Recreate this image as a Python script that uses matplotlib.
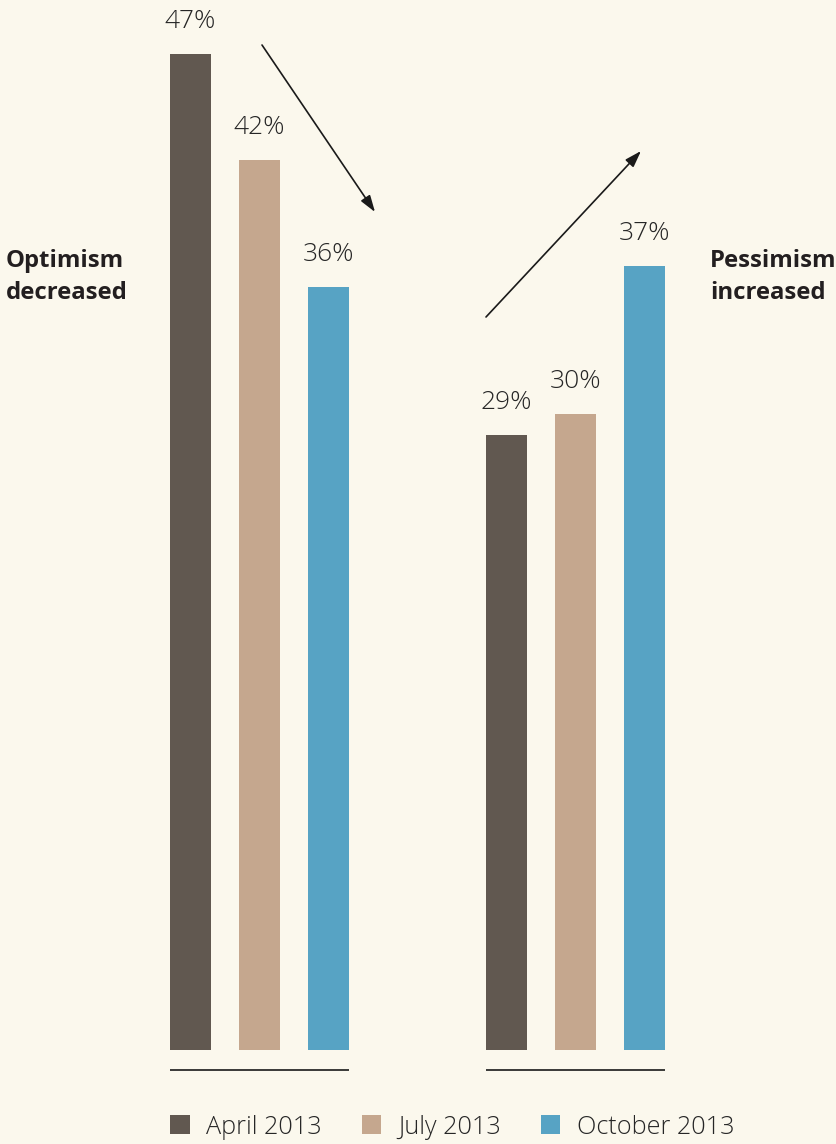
import matplotlib
matplotlib.use("Agg")
import matplotlib.pyplot as plt
from matplotlib.patches import Patch

groups = ["Optimism decreased", "Pessimism increased"]
series = ["April 2013", "July 2013", "October 2013"]
values = {
    "April 2013": [47, 29],
    "July 2013": [42, 30],
    "October 2013": [36, 37],
}
colors = ["#615850", "#C5A78E", "#57A3C4"]
bg = "#FBF8ED"

W, H = 837, 1144
fig = plt.figure(figsize=(W / 100, H / 100), dpi=100, facecolor=bg)
ax = fig.add_axes([0, 0, 1, 1])
ax.set_facecolor(bg)

u = 69.0  # px per x unit
py = 21.19  # px per percent
ax.set_xlim(-259.5 / u, (W - 259.5) / u)
ax.set_ylim(-94 / py, (H - 94) / py)
ax.axis("off")

group_x = [0.0, 316 / u]
bw = 41 / u
txtc = "#262626"
for si, s in enumerate(series):
    for gi, gx in enumerate(group_x):
        x = gx + (si - 1)
        v = values[s][gi]
        ax.bar(x, v, width=bw, color=colors[si], linewidth=0)
        ax.text(x, v + 26 / py, f"{v}%", ha="center", va="baseline",
                fontsize=19, color=txtc, family="Open Sans", fontweight="light")

# baselines under groups
for gx in group_x:
    ax.plot([gx - 1 - bw / 2, gx + 1 + bw / 2], [-20 / py, -20 / py],
            color="#2a2a2a", lw=1.3, solid_capstyle="butt")

# group labels
ax.text(-254 / u, 36.5, "Optimism\ndecreased", ha="left", va="center",
        fontsize=17.2, fontweight="bold", color="#231f20", family="Open Sans",
        linespacing=1.45)
ax.text((710 - 259.5) / u, 36.5, "Pessimism\nincreased", ha="left", va="center",
        fontsize=17.2, fontweight="bold", color="#231f20", family="Open Sans",
        linespacing=1.45)

def fp(px, pyy):
    return (px / W, 1 - pyy / H)

for start, end in [((262, 45), (375, 212)), ((486, 317), (641, 151))]:
    ax.annotate("", xy=fp(*end), xytext=fp(*start), xycoords="axes fraction",
                textcoords="axes fraction",
                arrowprops=dict(arrowstyle="-|>,head_length=1.0,head_width=0.33",
                                color="#1a1a1a", lw=1.2, shrinkA=0, shrinkB=0))

handles = [Patch(facecolor=c, edgecolor="none") for c in colors]
leg = fig.legend(handles, series, loc="center left",
                 bbox_to_anchor=(170 / W, 1 - 1127 / H), ncol=3, frameon=False,
                 handlelength=0.78, handleheight=0.8, handletextpad=0.65,
                 columnspacing=1.58, borderaxespad=0, borderpad=0,
                 prop=dict(family="Open Sans", size=18.2, weight="light"))
for t in leg.get_texts():
    t.set_color(txtc)

fig.savefig("out.png", dpi=100, facecolor=bg)
